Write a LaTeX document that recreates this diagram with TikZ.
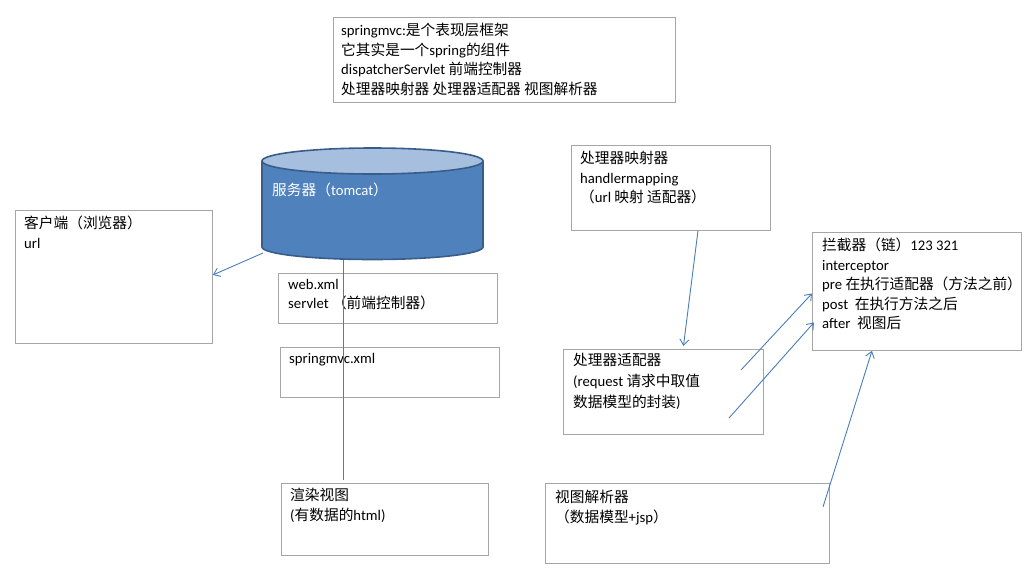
\documentclass[tikz,border=0pt]{standalone}
\usepackage{fontspec}
\setmainfont{Carlito}
\newfontfamily\cjkfont{Noto Sans CJK SC}
\newcommand{\zh}[1]{{\cjkfont #1}}
\usetikzlibrary{arrows.meta}
\definecolor{boxline}{HTML}{A6A6A6}
\definecolor{arrowblue}{HTML}{4A7EBB}
\definecolor{dbbody}{HTML}{4F81BD}
\definecolor{dbtop}{HTML}{A7BFDE}
\definecolor{dbline}{HTML}{385D8A}
\begin{document}
\begin{tikzpicture}[x=1pt,y=-1pt,
  box/.style={draw=boxline,line width=0.9pt,anchor=north west,inner sep=0pt},
  txt/.style={anchor=north west,align=left,inner sep=0pt,font=\fontsize{14.7}{19.5}\selectfont},
  link/.style={draw=arrowblue,line width=0.9pt},
  arrow/.style={link,-{Straight Barb[length=6pt,width=9pt]}}]
\useasboundingbox (0,0) rectangle (1036,579);

\node[box,minimum width=342pt,minimum height=85pt] (intro) at (333,17) {};
\node[box,minimum width=197pt,minimum height=133pt] (client) at (15,210) {};
\node[box,minimum width=219pt,minimum height=50pt] (webxml) at (278,273) {};
\node[box,minimum width=219pt,minimum height=50pt] (mvcxml) at (280,347) {};
\node[box,minimum width=207pt,minimum height=72pt] (render) at (281,483) {};
\node[box,minimum width=199pt,minimum height=85pt] (mapping) at (571,145) {};
\node[box,minimum width=200pt,minimum height=85pt] (adapter) at (563,349) {};
\node[box,minimum width=209pt,minimum height=118pt] (interceptor) at (812,232) {};
\node[box,minimum width=284pt,minimum height=80pt] (resolver) at (545,483) {};

\node[txt] (intro-t) at ([xshift=8pt,yshift=-6pt]intro.north west)
  {springmvc:\zh{是个表现层框架}\\\zh{它其实是一个}spring\zh{的组件}\\dispatcherServlet \zh{前端控制器}\\\zh{处理器映射器 处理器适配器 视图解析器}};
\node[txt] (client-t) at ([xshift=9pt,yshift=-6pt]client.north west) {\zh{客户端（浏览器）}\\url};
\node[txt] (webxml-t) at ([xshift=10pt,yshift=-6pt]webxml.north west) {web.xml\\servlet \zh{（前端控制器）}};
\node[txt] (mvcxml-t) at ([xshift=9pt,yshift=-6pt]mvcxml.north west) {springmvc.xml};
\node[txt] (render-t) at ([xshift=9pt,yshift=-5pt]render.north west) {\zh{渲染视图}\\(\zh{有数据的}html)};
\node[txt] (mapping-t) at ([xshift=9pt,yshift=-6pt]mapping.north west) {\zh{处理器映射器}\\handlermapping\\\zh{（}url \zh{映射 适配器）}};
\node[txt,font=\fontsize{14.7}{21}\selectfont] (adapter-t) at ([xshift=10pt,yshift=-4pt]adapter.north west) {\zh{处理器适配器}\\(request \zh{请求中取值}\\\zh{数据模型的封装})};
\node[txt] (interceptor-t) at ([xshift=10pt,yshift=-6pt]interceptor.north west) {\zh{拦截器（链）}123 321\\interceptor\\pre \zh{在执行适配器（方法之前）}\\post\ \ \zh{在执行方法之后}\\after\ \ \zh{视图后}};
\node[txt] (resolver-t) at ([xshift=10pt,yshift=-7pt]resolver.north west) {\zh{视图解析器}\\\zh{（数据模型}+jsp\zh{）}};

\fill[dbbody] (262,161) -- (262,247) arc[start angle=180,end angle=360,x radius=110.5pt,y radius=12.5pt] -- (483,161) -- cycle;
\draw[dbline,line width=1.6pt] (262,161) -- (262,247) arc[start angle=180,end angle=360,x radius=110.5pt,y radius=12.5pt] -- (483,161);
\filldraw[fill=dbtop,draw=dbline,line width=1.6pt] (372.5,161) ellipse[x radius=110.5pt,y radius=13pt];
\node[anchor=west,inner sep=0pt,text=white,font=\fontsize{14.7}{19.5}\selectfont] (server) at (272,190) {\zh{服务器（}tomcat\zh{）}};
\coordinate (server-sw) at (263,253);
\coordinate (server-b) at (343,260);

\draw[arrow] (server-sw) -- ([yshift=2pt]client.east);
\draw[link] (server-b) -- ([yshift=3pt]server-b |- render.north);
\draw[arrow] ([xshift=27pt]mapping.south) -- ([xshift=20pt,yshift=3pt]adapter.north);

\coordinate (adapter-a) at (741,370);
\coordinate (adapter-b) at (729,418);
\coordinate (resolver-a) at (823,507);
\draw[arrow] (adapter-a) -- ([yshift=-2pt]interceptor.west);
\draw[arrow] (adapter-b) -- ([xshift=2pt,yshift=-31pt]interceptor.west);
\draw[arrow] (resolver-a) -- ([xshift=-45pt]interceptor.south);
\end{tikzpicture}
\end{document}
